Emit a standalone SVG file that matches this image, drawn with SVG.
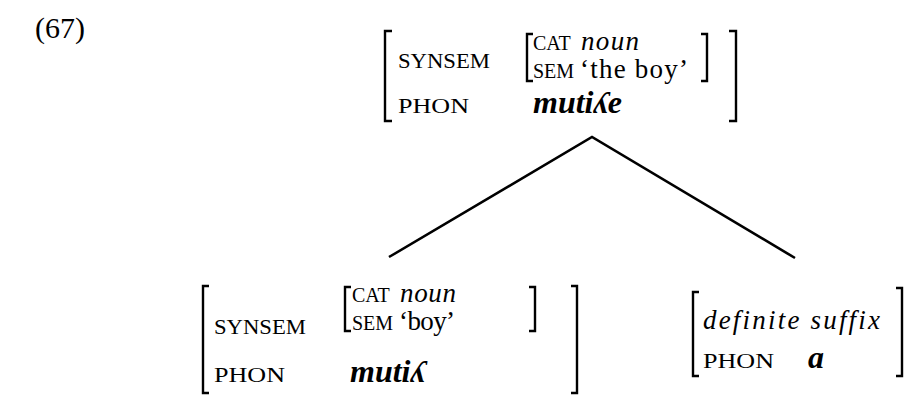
<svg xmlns="http://www.w3.org/2000/svg" width="913" height="396" viewBox="0 0 913 396">
<style>
.lbl{font-family:"Liberation Serif","Times New Roman",serif;font-size:22px;fill:#000}
.sl{font-family:"Liberation Serif","Times New Roman",serif;font-size:20px;fill:#000}
.val{font-family:"Liberation Serif","Times New Roman",serif;font-size:27px;fill:#000}
.it{font-family:"Liberation Serif","Times New Roman",serif;font-style:italic;font-size:27px;fill:#000}
.big{font-family:"Liberation Serif","Times New Roman",serif;font-style:italic;font-weight:bold;font-size:32px;fill:#000}
.br{fill:none;stroke:#000;stroke-width:2.4}
.edge{fill:none;stroke:#000;stroke-width:2.6}
.num{font-family:"Liberation Serif","Times New Roman",serif;font-size:30px;fill:#000}
</style>
<rect width="913" height="396" fill="#fff"/>
<text class="num" x="35" y="38">(67)</text>
<g id="mother">
<path class="br" d="M392,31 H385 V121 H392"/>
<path class="br" d="M729,31 H736 V121 H729"/>
<text class="lbl" x="398" y="68" textLength="92" lengthAdjust="spacingAndGlyphs">SYNSEM</text>
<path class="br" d="M533,34 H527 V81 H533"/>
<path class="br" d="M701,34 H707 V81 H701"/>
<text class="sl" x="533" y="50">CAT</text>
<text class="it" x="581" y="50" textLength="58">noun</text>
<text class="sl" x="533" y="78">SEM</text>
<text class="val" x="580" y="78" textLength="108">‘the boy’</text>
<text class="lbl" x="398" y="113" textLength="71" lengthAdjust="spacingAndGlyphs">PHON</text>
<text class="big" x="533" y="113">mutiʎe</text>
</g>
<g id="stem">
<path class="br" d="M209,286 H203 V393 H209"/>
<path class="br" d="M571,286 H577 V393 H571"/>
<text class="lbl" x="214" y="334" textLength="92" lengthAdjust="spacingAndGlyphs">SYNSEM</text>
<path class="br" d="M351,287 H345 V331 H351"/>
<path class="br" d="M529,287 H535 V331 H529"/>
<text class="sl" x="352" y="302">CAT</text>
<text class="it" x="400" y="302" textLength="56">noun</text>
<text class="sl" x="352" y="330">SEM</text>
<text class="val" x="399" y="330" textLength="56">‘boy’</text>
<text class="lbl" x="214" y="382" textLength="71" lengthAdjust="spacingAndGlyphs">PHON</text>
<text class="big" x="350" y="382">mutiʎ</text>
</g>
<g id="suffix">
<path class="br" d="M699,292 H693 V376 H699"/>
<path class="br" d="M896,288 H902 V376 H896"/>
<text class="it" x="703" y="329" font-size="32" textLength="177">definite suffix</text>
<text class="lbl" x="703" y="368" textLength="71" lengthAdjust="spacingAndGlyphs">PHON</text>
<text class="big" x="808" y="368">a</text>
</g>
<g id="connectors">
<path class="edge" d="M389,257 L592,137 L795,258"/>
</g>
</svg>
